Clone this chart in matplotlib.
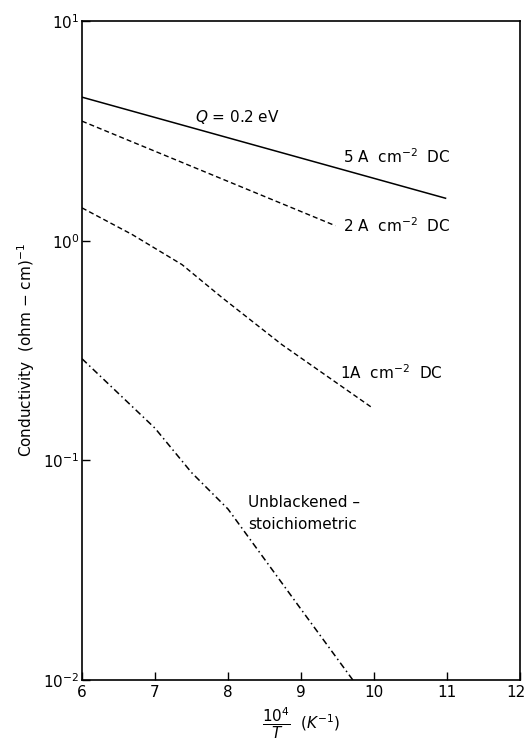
import matplotlib
matplotlib.use("Agg")
import matplotlib.pyplot as plt
from matplotlib.ticker import FixedLocator, NullLocator
from matplotlib.transforms import ScaledTranslation

plt.rcParams['font.family'] = ['DejaVu Sans']
plt.rcParams['mathtext.fontset'] = 'dejavusans'

# Conductivity vs reciprocal temperature
x_5a = [6.0, 10.98]
y_5a = [4.5, 1.56]

x_2a = [6.0, 9.47]
y_2a = [3.5, 1.17]

x_1a = [6.0, 6.69, 7.37, 7.92, 8.74, 9.97]
y_1a = [1.41, 1.065, 0.778, 0.55, 0.336, 0.174]

x_unb = [6.0, 7.0, 7.5, 8.0, 9.0, 9.71]
y_unb = [0.29, 0.14, 0.088, 0.060, 0.021, 0.010]

x_ticks = [6, 7, 8, 9, 10, 11, 12]
y_ticks = [1e-2, 1e-1, 1e0, 1e1]
y_tick_labels = [r'$10^{-2}$', r'$10^{-1}$', r'$10^{0}$', r'$10^{1}$']

fig = plt.figure(figsize=(5.27, 7.47), dpi=100)
ax = fig.add_axes([0.1556, 0.0897, 0.8311, 0.8822])

ax.plot(x_5a, y_5a, color='black', lw=1.1, ls='-')
ax.plot(x_2a, y_2a, color='black', lw=1.0, ls=(0, (3.6, 2.2)))
ax.plot(x_1a, y_1a, color='black', lw=1.0, ls=(0, (3.6, 2.2)))
ax.plot(x_unb, y_unb, color='black', lw=1.1, ls=(0, (4.3, 2.2, 1.0, 2.2)))

ax.set_yscale('log')
ax.set_xlim(6, 12)
ax.set_ylim(1e-2, 1e1)
ax.xaxis.set_major_locator(FixedLocator(x_ticks))
ax.yaxis.set_major_locator(FixedLocator(y_ticks))
ax.yaxis.set_minor_locator(NullLocator())
ax.set_yticklabels(y_tick_labels)
ax.tick_params(direction='in', length=6, width=1.0, labelsize=11, colors='black')
ax.tick_params(axis='y', pad=2)
for s in ax.spines.values():
    s.set_linewidth(1.2)

# keep the last x tick label inside the figure
fig.canvas.draw()
last = ax.get_xticklabels()[-1]
last.set_transform(last.get_transform() + ScaledTranslation(-3 / 72, 0, fig.dpi_scale_trans))

ax.text(7.55, 3.67, r'$Q$ = 0.2 eV', fontsize=11, ha='left', va='center')
ax.text(9.58, 2.41, r'5 A  cm$^{-2}$  DC', fontsize=11, ha='left', va='center')
ax.text(9.58, 1.17, r'2 A  cm$^{-2}$  DC', fontsize=11, ha='left', va='center')
ax.text(9.53, 0.25, r'1A  cm$^{-2}$  DC', fontsize=11, ha='left', va='center')
ax.text(8.27, 0.0641, 'Unblackened \u2013', fontsize=11, ha='left', va='center')
ax.text(8.27, 0.0509, 'stoichiometric', fontsize=11, ha='left', va='center')

ax.set_ylabel(r'Conductivity  (ohm $-$ cm)$^{-1}$', fontsize=11, labelpad=4)
ax.set_xlabel(r'$\dfrac{10^4}{T}$  $(K^{-1})$', fontsize=11, labelpad=4)

fig.savefig('out.png', dpi=100)
